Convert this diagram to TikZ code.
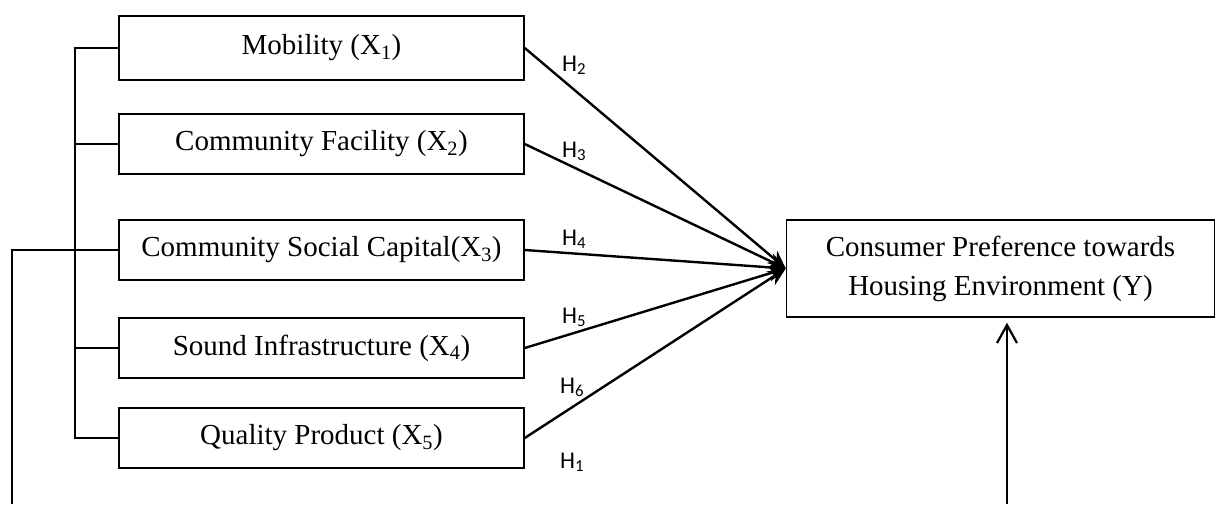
\documentclass[tikz,border=0pt]{standalone}
\usepackage{fontspec}
\setmainfont{Liberation Serif}
\newfontfamily\hfont{Carlito}
\usetikzlibrary{arrows.meta,positioning}

\tikzset{
  var/.style={draw, line width=1.5pt, minimum width=405pt, minimum height=60pt,
    inner sep=0pt, font=\fontsize{29}{39}\selectfont},
  hyp/.style={font=\hfont\fontsize{24}{28}\selectfont, anchor=base west, inner sep=0pt},
  tree/.style={line width=1.5pt},
  path/.style={line width=2.4pt, -{Stealth[length=18pt,width=16pt]}}
}

\begin{document}
\begin{tikzpicture}[x=1pt, y=-1pt, on grid]
  \useasboundingbox (0,0) rectangle (1216,504);

  % independent variables
  \node[var, minimum height=64pt] (x1) at (321.5,48) {Mobility (X\textsubscript{1})};
  \node[var] (x2) [below=96pt of x1] {Community Facility (X\textsubscript{2})};
  \node[var] (x3) [below=106pt of x2] {Community Social Capital(X\textsubscript{3})};
  \node[var] (x4) [below=98pt of x3] {Sound Infrastructure (X\textsubscript{4})};
  \node[var] (x5) [below=90pt of x4] {Quality Product (X\textsubscript{5})};

  % dependent variable
  \node[var, minimum width=428pt, minimum height=97pt, align=center] (y) at (1000.5,268.5)
    {Consumer Preference towards\\Housing Environment (Y)};

  % bracket on the left
  \coordinate (trunk) at (75,0);
  \coordinate (feed) at (12,504);
  \draw[tree] (x1.west) -- (x1.west -| trunk) -- (x5.west -| trunk) -- (x5.west);
  \foreach \n in {x2,x3,x4}
    \draw[tree] (\n.west) -- (\n.west -| trunk);
  \draw[tree] (x3.west) -| (feed);

  % hypotheses
  \foreach \n in {1,...,5}
    \draw[path] (x\n.east) -- (y.west);

  \node[hyp] (h2) at (562,71) {H\textsubscript{2}};
  \node[hyp] (h3) at (562,157) {H\textsubscript{3}};
  \node[hyp] (h4) at (562,245) {H\textsubscript{4}};
  \node[hyp] (h5) at (562,323) {H\textsubscript{5}};
  \node[hyp] (h6) at (560,393) {H\textsubscript{6}};
  \node[hyp] (h1) at (560,468) {H\textsubscript{1}};

  \coordinate (yfeed) at (1007,504);
  \draw[line width=2.2pt, -{Straight Barb[length=18pt,width=20pt]}, shorten >=5pt]
    (yfeed) -- (yfeed |- y.south);
\end{tikzpicture}
\end{document}
